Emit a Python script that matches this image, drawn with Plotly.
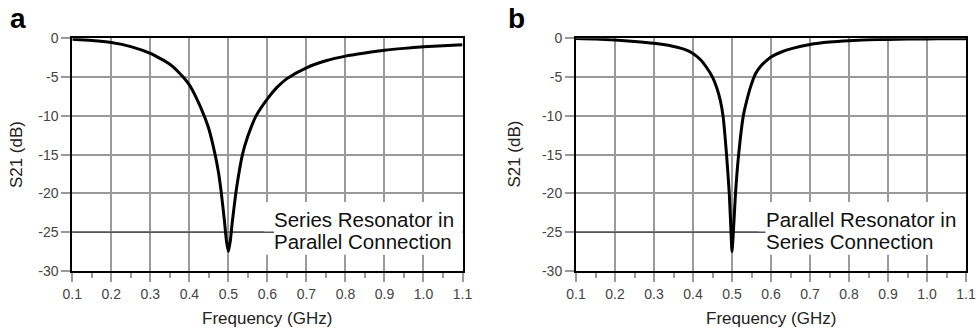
import plotly.graph_objects as go

# ---- data ----
freq_a = [0.10, 0.15, 0.20, 0.25, 0.30, 0.35, 0.375, 0.40, 0.42, 0.438, 0.45, 0.466, 0.475,
          0.482, 0.49, 0.495, 0.50, 0.505, 0.51, 0.519, 0.525, 0.536, 0.55, 0.571, 0.60, 0.625,
          0.65, 0.70, 0.75, 0.80, 0.85, 0.90, 0.95, 1.00, 1.05, 1.10]
s21_a = [-0.12, -0.28, -0.55, -1.07, -1.95, -3.35, -4.5, -6.0, -7.9, -10.0, -11.7, -15.0, -17.4,
         -20.0, -23.6, -26.1, -27.5, -26.1, -23.7, -20.0, -18.0, -15.0, -12.6, -10.0, -7.8, -6.3,
         -5.2, -3.8, -2.9, -2.3, -1.9, -1.55, -1.3, -1.1, -0.95, -0.82]

freq_b = [0.10, 0.15, 0.20, 0.25, 0.30, 0.35, 0.38, 0.40, 0.42, 0.434, 0.45, 0.4617, 0.47,
          0.477, 0.486, 0.493, 0.4975, 0.50, 0.5035, 0.509, 0.517, 0.529, 0.538, 0.548, 0.56,
          0.575, 0.59, 0.60, 0.625, 0.655, 0.70, 0.75, 0.80, 0.85, 0.90, 0.95, 1.00, 1.05, 1.10]
s21_b = [-0.04, -0.10, -0.22, -0.40, -0.65, -1.05, -1.45, -1.95, -2.8, -3.7, -5.0, -6.5, -8.0,
         -10.0, -15.0, -20.0, -25.0, -27.5, -25.0, -20.0, -15.0, -10.0, -8.0, -6.2, -4.6,
         -3.5, -2.8, -2.4, -1.8, -1.3, -0.8, -0.48, -0.3, -0.2, -0.14, -0.1, -0.08, -0.06, -0.05]

x_ticks = [0.1, 0.2, 0.3, 0.4, 0.5, 0.6, 0.7, 0.8, 0.9, 1.0, 1.1]
x_labels = ["0.1", "0.2", "0.3", "0.4", "0.5", "0.6", "0.7", "0.8", "0.9", "1.0", "1.1"]
y_ticks = [0, -5, -10, -15, -20, -25, -30]
y_labels = ["0", "-5", "-10", "-15", "-20", "-25", "-30"]

label_a = ["Series Resonator in", "Parallel Connection"]
label_b = ["Parallel Resonator in", "Series Connection"]

FONT = "Liberation Sans, Arial, sans-serif"
GRID = "#9a9a9a"
W, H = 978, 336

def px_x(p):
    return p / W

def px_y(p):
    return 1 - p / H

fig = go.Figure()
fig.add_trace(go.Scatter(x=freq_a, y=s21_a, mode="lines", xaxis="x", yaxis="y",
                         line=dict(color="black", width=3, shape="spline", smoothing=0.6),
                         showlegend=False))
fig.add_trace(go.Scatter(x=freq_b, y=s21_b, mode="lines", xaxis="x2", yaxis="y2",
                         line=dict(color="black", width=3, shape="spline", smoothing=0.6),
                         showlegend=False))

def xaxis(domain, anchor):
    return dict(domain=domain, anchor=anchor, range=[0.1, 1.1], tickmode="array",
                tickvals=x_ticks, ticktext=x_labels, showgrid=True, gridcolor=GRID,
                gridwidth=1.5, showline=True, linecolor="black", linewidth=2, mirror=True,
                ticks="outside", ticklen=9, tickwidth=1.5, tickcolor=GRID, zeroline=False,
                automargin=False,
                tickfont=dict(family=FONT, size=14, color="#444"),
                minor=dict(dtick=0.05, tick0=0.1, ticks="outside", ticklen=5, tickwidth=1.5,
                           tickcolor=GRID, showgrid=False))

def yaxis(domain, anchor):
    return dict(domain=domain, anchor=anchor, range=[-30, 0], tickmode="array",
                tickvals=y_ticks, ticktext=y_labels, showgrid=True, gridcolor=GRID,
                gridwidth=1.5, showline=True, linecolor="black", linewidth=2, mirror=True,
                ticks="outside", ticklen=9, tickwidth=1.5, tickcolor=GRID, zeroline=False,
                automargin=False,
                tickfont=dict(family=FONT, size=14, color="#444"))

ydom = [px_y(271), px_y(38.3)]
xdom_a = [px_x(72.3), px_x(462.5)]
xdom_b = [px_x(576), px_x(966)]

shapes = []
annotations = []
for xr, yr, x0_box, x_text, lines, xc_title, yl_x, letter, letter_x in [
    ("x", "y", 0.592, 0.617, label_a, 267, 16.5, "a", 17.5),
    ("x2", "y2", 0.568, 0.586, label_b, 771, 515, "b", 516.5),
]:
    shapes.append(dict(type="rect", xref=xr, yref=yr, x0=x0_box, x1=1.1, y0=-27.9, y1=-21.1,
                       fillcolor="white", line=dict(width=0), layer="between"))
    shapes.append(dict(type="line", xref=xr, yref=yr, x0=0.1, x1=x_text, y0=-25, y1=-25,
                       line=dict(color="#555", width=1.5), layer="between"))
    annotations.append(dict(xref=xr, yref=yr, x=x_text, y=-23.4, text=lines[0], showarrow=False,
                            xanchor="left", yanchor="middle", xshift=-2,
                            font=dict(family=FONT, size=20.5, color="#111")))
    annotations.append(dict(xref=xr, yref=yr, x=x_text, y=-26.2, text=lines[1], showarrow=False,
                            xanchor="left", yanchor="middle", xshift=-2,
                            font=dict(family=FONT, size=20.5, color="#111")))
    annotations.append(dict(xref="paper", yref="paper", x=px_x(xc_title), y=px_y(318),
                            text="Frequency (GHz)", showarrow=False, xanchor="center",
                            yanchor="middle", font=dict(family=FONT, size=17, color="#222")))
    annotations.append(dict(xref="paper", yref="paper", x=px_x(yl_x), y=px_y(154.6),
                            text="S21 (dB)", showarrow=False, textangle=-90, xanchor="center",
                            yanchor="middle", font=dict(family=FONT, size=17, color="#222")))
    annotations.append(dict(xref="paper", yref="paper", x=px_x(letter_x), y=px_y(18.5),
                            text="<b>" + letter + "</b>", showarrow=False, xanchor="center",
                            yanchor="middle", font=dict(family=FONT, size=28, color="black")))

fig.update_layout(
    width=W, height=H, margin=dict(l=0, r=0, t=0, b=0),
    paper_bgcolor="white", plot_bgcolor="white",
    xaxis=xaxis(xdom_a, "y"), yaxis=yaxis(ydom, "x"),
    xaxis2=xaxis(xdom_b, "y2"), yaxis2=yaxis(ydom, "x2"),
    shapes=shapes, annotations=annotations,
)

fig.write_html("out.html")
